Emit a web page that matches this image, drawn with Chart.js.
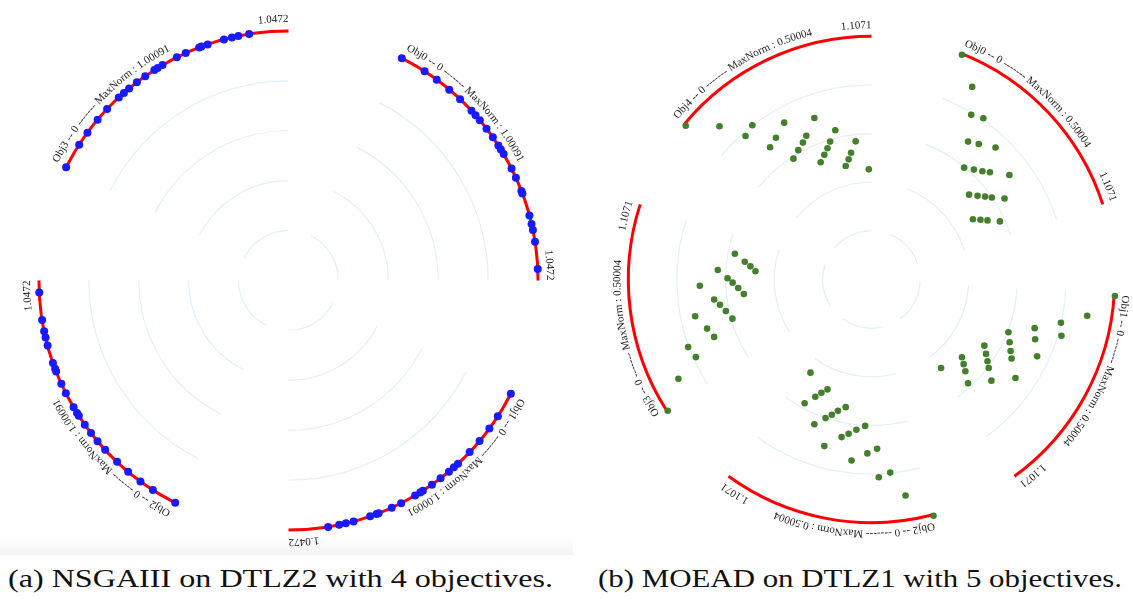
<!DOCTYPE html>
<html lang="en">
<head>
<meta charset="UTF-8">
<title>Objective arcs</title>
<script src="https://cdn.jsdelivr.net/npm/chart.js"></script>
<style>
    body {
        margin: 0;
        width: 1133px;
        height: 602px;
        overflow: hidden;
        position: relative;
        background: #fff;
        font-family: "Liberation Serif", "Times New Roman", Times, serif;
    }
    .panel { position: absolute; }
    .strip {
        position: absolute;
        left: 0; top: 538px;
        width: 573px; height: 17px;
        background: linear-gradient(#ffffff, #f3f3f3);
    }
    .caption {
        position: absolute;
        top: 565px;
        font-size: 25px;
        white-space: nowrap;
        transform-origin: left top;
        color: #111;
    }
</style>
</head>
<body>
<div class="strip"></div>
<canvas id="chartA" class="panel" style="left:10px;top:2px" width="557" height="557"></canvas>
<canvas id="chartB" class="panel" style="left:600px;top:8px" width="543" height="543"></canvas>
<div class="caption" style="left:8px" data-w="545">(a) NSGAIII on DTLZ2 with 4 objectives.</div>
<div class="caption" style="left:598px" data-w="524">(b) MOEAD on DTLZ1 with 5 objectives.</div>

<script>
    // ---- (a) NSGAIII / DTLZ2, 4 objectives ----
    // position of each solution along its objective arc (0 = arc start, 1 = arc end)
    const nsgaObj0 = [0, .096, .150, .208, .261, .320, .342, .366, .405, .444, .480, .497, .517, .577, .614, .666, .676, .760, .792, .815, .858, .958];
    const nsgaObj1 = [0, .095, .149, .207, .261, .321, .341, .365, .404, .443, .483, .494, .516, .574, .612, .664, .672, .697, .760, .789, .814, .855];
    const nsgaObj2 = [0, .094, .149, .206, .260, .322, .364, .402, .440, .479, .491, .515, .574, .612, .661, .671, .694, .760, .790, .814, .855, .956];
    const nsgaObj3 = [0, .095, .148, .208, .260, .320, .345, .370, .406, .444, .484, .498, .519, .578, .614, .667, .676, .700, .762, .792, .816, .856];
    const nsgaNames = ['Obj0', 'Obj1', 'Obj2', 'Obj3'];
    const nsgaMaxNorm = '1.00091';
    const nsgaArcMax = '1.0472';

    // ---- (b) MOEAD / DTLZ1, 5 objectives ----
    // projected solutions (unit circle = outer arc), grouped by the sector they fall in
    const moeadObj0 = [[.372,.924],[.414,.792],[.410,.677],[.460,.663],[.397,.567],[.441,.557],[.510,.543],
        [.381,.460],[.421,.452],[.456,.445],[.487,.441],[.567,.430],[.401,.349],[.436,.344],[.467,.341],
        [.495,.337],[.547,.333],[.417,.248],[.448,.246],[.477,.243],[.528,.239]];
    const moeadObj1 = [[1.001,-.068],[.887,-.149],[.779,-.178],[.781,-.231],[.671,-.200],[.673,-.246],[.681,-.316],
        [.563,-.217],[.568,-.258],[.572,-.294],[.576,-.325],[.592,-.405],[.464,-.272],[.471,-.306],[.477,-.336],
        [.482,-.364],[.493,-.416],[.372,-.320],[.379,-.348],[.386,-.377],[.397,-.427],[.286,-.364]];
    const moeadObj2 = [[.255,-.972],[.140,-.888],[.030,-.813],[.077,-.794],[-.082,-.744],[-.017,-.715],[.023,-.696],
        [-.194,-.685],[-.123,-.648],[-.094,-.634],[-.062,-.618],[-.026,-.602],[-.235,-.595],[-.189,-.570],
        [-.163,-.556],[-.138,-.540],[-.106,-.525],[-.275,-.509],[-.231,-.482],[-.206,-.466],[-.181,-.452],[-.251,-.383]];
    const moeadObj3 = [[-.838,-.540],[-.794,-.408],[-.754,-.278],[-.722,-.319],[-.725,-.151],[-.676,-.202],[-.647,-.236],
        [-.706,-.026],[-.647,-.082],[-.623,-.104],[-.599,-.130],[-.572,-.161],[-.632,.039],[-.592,.005],
        [-.571,-.013],[-.548,-.035],[-.525,-.060],[-.562,.106],[-.521,.073],[-.498,.054],[-.477,.034]];
    const moeadObj4 = [[-.764,.632],[-.625,.630],[-.490,.634],[-.518,.590],[-.359,.645],[-.393,.583],[-.417,.544],
        [-.235,.664],[-.268,.591],[-.282,.563],[-.301,.532],[-.321,.497],[-.149,.614],[-.170,.567],[-.181,.540],
        [-.194,.513],[-.209,.482],[-.065,.568],[-.084,.521],[-.094,.494],[-.106,.467],[-.011,.453]];
    const moeadNames = ['Obj0', 'Obj1', 'Obj2', 'Obj3', 'Obj4'];
    const moeadMaxNorm = '0.50004';
    const moeadArcMax = '1.1071';

    // guide rings, as fractions of the outer radius
    const ringLevels = [0.2, 0.4, 0.6, 0.8];
    // each objective arc leaves this share of its sector empty
    const SECTOR_GAP = 0.3;
    const LABEL_FONT = '"Liberation Serif", "Times New Roman", Times, serif';

    function arcRange(i, n) {
        const sector = 2 * Math.PI / n;
        return [i * sector + SECTOR_GAP * sector, (i + 1) * sector];
    }

    // write text along a circle, clockwise, glyph tops facing outward
    function textOnArc(ctx, text, cx, cy, r, angle, anchor) {
        const total = ctx.measureText(text).width / r;
        let a = anchor === 'end' ? angle - total : angle;
        for (const ch of text) {
            const w = ctx.measureText(ch).width;
            const mid = a + w / 2 / r;
            ctx.save();
            ctx.translate(cx + r * Math.sin(mid), cy - r * Math.cos(mid));
            ctx.rotate(mid);
            ctx.fillText(ch, 0, 0);
            ctx.restore();
            a += w / r;
        }
    }

    // rings, red objective arcs and their labels
    const radialFrame = {
        id: 'radialFrame',
        beforeDatasetsDraw(chart, args, opts) {
            const { ctx, scales: { x, y } } = chart;
            const cx = x.getPixelForValue(0);
            const cy = y.getPixelForValue(0);
            const unit = x.getPixelForValue(1) - cx;
            const n = opts.names.length;

            ctx.save();
            for (let i = 0; i < n; i++) {
                const [a0, a1] = arcRange(i, n);

                ctx.strokeStyle = '#e2effc';
                ctx.lineWidth = 1.2;
                ringLevels.forEach(r => {
                    ctx.beginPath();
                    ctx.arc(cx, cy, r * unit, a0 - Math.PI / 2, a1 - Math.PI / 2);
                    ctx.stroke();
                });

                ctx.strokeStyle = '#ff0000';
                ctx.lineWidth = 3;
                ctx.beginPath();
                ctx.arc(cx, cy, unit, a0 - Math.PI / 2, a1 - Math.PI / 2);
                ctx.stroke();

                ctx.fillStyle = '#1b1b1b';
                ctx.font = opts.fontSize + 'px ' + LABEL_FONT;
                ctx.textAlign = 'center';
                ctx.textBaseline = 'alphabetic';
                const label = opts.names[i] + ' -- 0 ------- MaxNorm : ' + opts.maxNorm;
                textOnArc(ctx, label, cx, cy, unit + opts.textGap, a0, 'start');
                textOnArc(ctx, opts.arcMax, cx, cy, unit + opts.textGap, a1, 'end');
            }
            ctx.restore();
        }
    };

    function baseOptions(frame) {
        return {
            responsive: false,
            animation: false,
            events: [],
            layout: { padding: 0 },
            scales: {
                x: { type: 'linear', min: -1.1, max: 1.1, display: false },
                y: { type: 'linear', min: -1.1, max: 1.1, display: false }
            },
            plugins: {
                legend: { display: false },
                tooltip: { enabled: false },
                radialFrame: frame
            }
        };
    }

    // (a): solutions sit on the arcs
    const nsgaSets = [nsgaObj0, nsgaObj1, nsgaObj2, nsgaObj3].map((list, i) => {
        const [a0, a1] = arcRange(i, 4);
        return {
            data: list.map(t => {
                const a = a0 + t * (a1 - a0);
                return { x: Math.sin(a), y: Math.cos(a) };
            }),
            pointRadius: 4,
            pointBackgroundColor: '#1a1aff',
            pointBorderWidth: 0
        };
    });

    new Chart(document.getElementById('chartA'), {
        type: 'scatter',
        data: { datasets: nsgaSets },
        options: baseOptions({ names: nsgaNames, maxNorm: nsgaMaxNorm, arcMax: nsgaArcMax,
            fontSize: 11, textGap: 9 }),
        plugins: [radialFrame]
    });

    // (b): projected solutions inside the circle
    const moeadSets = [moeadObj0, moeadObj1, moeadObj2, moeadObj3, moeadObj4].map(list => ({
        data: list.map(([x, y]) => ({ x, y })),
        pointRadius: 3.3,
        pointBackgroundColor: '#447f2c',
        pointBorderWidth: 0
    }));

    new Chart(document.getElementById('chartB'), {
        type: 'scatter',
        data: { datasets: moeadSets },
        options: baseOptions({ names: moeadNames, maxNorm: moeadMaxNorm, arcMax: moeadArcMax,
            fontSize: 11, textGap: 8 }),
        plugins: [radialFrame]
    });

    // stretch captions to their column width
    document.querySelectorAll('.caption').forEach(el => {
        const w = el.getBoundingClientRect().width;
        el.style.transform = 'scaleX(' + (el.dataset.w / w) + ')';
    });
</script>
</body>
</html>
